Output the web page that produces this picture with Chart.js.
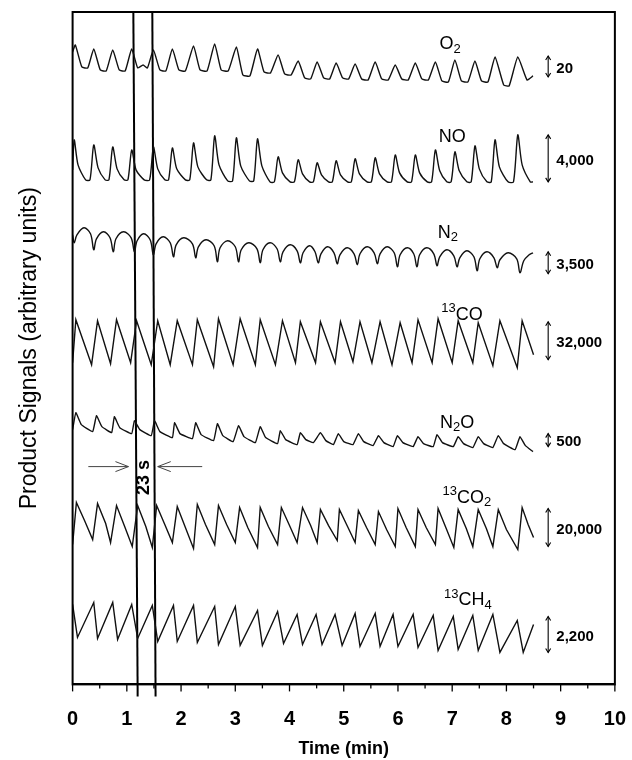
<!DOCTYPE html>
<html>
<head>
<meta charset="utf-8">
<script src="https://cdn.jsdelivr.net/npm/chart.js@4.4.1/dist/chart.umd.min.js"></script>
<style>html,body{margin:0;padding:0;background:#fff}</style>
</head>
<body>
<canvas id="c" width="632" height="760"></canvas>
<script>
// x axis: time in minutes
const timeTicks = [0, 1, 2, 3, 4, 5, 6, 7, 8, 9, 10];

// trace names (_ = subscript, ^ = superscript) and their scale bars
const traceNames = ['O_2', 'NO', 'N_2', '^13CO', 'N_2O', '^13CO_2', '^13CH_4'];
const scaleBarLabels = ['20', '4,000', '3,500', '32,000', '500', '20,000', '2,200'];
const scaleBarLow  = [608, 503, 411, 325, 238, 138, 32];
const scaleBarHigh = [629, 550, 433, 363, 251, 176, 68];

// the two marker lines, 23 s apart [time at top, time at bottom]
const markerLines = [[1.12, 1.2], [1.47, 1.53]];

// signals, stacked, [time (min), signal (arbitrary units)]
const o2Signal = [[0,633],[0.05,640],[0.17,618],[0.28,617],[0.39,636],[0.51,615],[0.62,614],[0.74,635],[0.86,615],[0.97,614],[1.09,636],[1.2,617],[1.3,620],[1.38,617],[1.49,635],[1.61,615],[1.72,614],[1.84,636],[1.96,615],[2.08,614],[2.23,639],[2.35,615],[2.48,614],[2.62,641],[2.74,615],[2.87,614],[3.02,638],[3.14,610],[3.27,609],[3.41,636],[3.53,613],[3.65,612],[3.79,630],[3.91,611],[4.03,610],[4.16,624],[4.28,607],[4.39,606],[4.51,623],[4.63,607],[4.74,606],[4.86,622],[4.98,607],[5.09,606],[5.21,621],[5.33,606],[5.45,605],[5.58,623],[5.7,606],[5.82,605],[5.95,620],[6.07,606],[6.19,605],[6.32,622],[6.44,606],[6.56,605],[6.69,623],[6.81,604],[6.93,603],[7.05,625],[7.17,604],[7.29,603],[7.42,624],[7.54,604],[7.66,603],[7.79,628],[7.95,600],[8.05,599],[8.21,628],[8.38,605],[8.49,609]];

const noSignal = [[0,515],[0.03,545],[0.1,520],[0.24,505],[0.32,505],[0.39,540],[0.47,517],[0.6,505],[0.67,505],[0.74,538],[0.82,516],[0.95,505],[1.02,505],[1.09,535],[1.17,515],[1.32,505],[1.42,505],[1.49,538],[1.57,516],[1.7,505],[1.77,505],[1.84,537],[1.92,516],[2.08,505],[2.16,505],[2.23,542],[2.31,518],[2.47,505],[2.55,505],[2.62,549],[2.7,520],[2.86,504],[2.95,504],[3.02,547],[3.1,519],[3.26,504],[3.34,504],[3.41,546],[3.49,519],[3.64,503],[3.72,503],[3.79,528],[3.87,512],[4.01,503],[4.09,503],[4.16,525],[4.24,511],[4.37,503],[4.44,503],[4.51,522],[4.59,510],[4.72,503],[4.79,503],[4.86,524],[4.94,510],[5.07,503],[5.14,503],[5.21,526],[5.29,511],[5.43,503],[5.51,503],[5.58,527],[5.66,511],[5.8,503],[5.88,503],[5.95,530],[6.03,512],[6.17,503],[6.25,503],[6.32,530],[6.4,512],[6.54,503],[6.62,503],[6.69,535],[6.77,514],[6.9,503],[6.98,503],[7.05,533],[7.13,514],[7.27,503],[7.35,503],[7.42,539],[7.5,516],[7.64,503],[7.72,503],[7.79,545],[7.87,518],[8.03,503],[8.13,503],[8.21,550],[8.29,520],[8.44,503],[8.49,503]];

const n2Signal = [[0,450],[0.03,442],[0.08,450],[0.21,457],[0.33,451],[0.39,435],[0.44,446],[0.57,453],[0.69,447],[0.75,433],[0.8,446],[0.94,453],[1.08,447],[1.14,433],[1.19,444],[1.31,451],[1.43,445],[1.49,430],[1.54,441],[1.67,448],[1.8,442],[1.86,428],[1.91,440],[2.05,447],[2.21,441],[2.27,427],[2.32,438],[2.46,445],[2.61,439],[2.67,423],[2.72,437],[2.86,444],[3.0,438],[3.06,423],[3.11,435],[3.25,442],[3.4,436],[3.46,422],[3.51,435],[3.64,442],[3.77,436],[3.83,423],[3.88,433],[4.01,440],[4.14,434],[4.2,422],[4.25,432],[4.37,439],[4.47,433],[4.53,422],[4.58,431],[4.7,438],[4.82,432],[4.88,421],[4.93,430],[5.06,437],[5.19,431],[5.25,420],[5.3,431],[5.43,438],[5.56,432],[5.62,421],[5.67,431],[5.8,438],[5.93,432],[5.99,418],[6.04,430],[6.17,437],[6.29,431],[6.35,418],[6.4,430],[6.53,437],[6.66,431],[6.72,419],[6.77,428],[6.9,435],[7.03,429],[7.09,418],[7.14,427],[7.27,434],[7.4,428],[7.46,414],[7.51,426],[7.64,433],[7.77,427],[7.83,417],[7.88,425],[8.03,432],[8.19,426],[8.25,412],[8.32,424],[8.42,430],[8.49,432]];

const coSignal = [[0,322],[0.06,365],[0.35,320],[0.46,364],[0.7,321],[0.81,365],[1.07,322],[1.18,364],[1.45,320],[1.57,364],[1.8,320],[1.93,364],[2.21,320],[2.3,365],[2.6,318],[2.69,366],[2.96,320],[3.09,366],[3.37,320],[3.46,365],[3.74,320],[3.87,364],[4.11,322],[4.2,363],[4.48,322],[4.57,363],[4.84,322],[4.94,363],[5.17,323],[5.3,363],[5.52,322],[5.67,363],[5.89,320],[6.04,362],[6.26,322],[6.37,365],[6.63,322],[6.74,366],[7.0,322],[7.11,364],[7.38,322],[7.48,362],[7.75,319],[7.88,364],[8.2,317],[8.29,364],[8.5,330]];

const n2oSignal = [[0,255],[0.06,272],[0.16,260],[0.37,253],[0.44,269],[0.54,258],[0.72,252],[0.77,268],[0.87,257],[1.09,251],[1.14,264],[1.24,255],[1.45,249],[1.51,264],[1.61,253],[1.84,247],[1.88,262],[1.98,251],[2.21,246],[2.27,262],[2.37,250],[2.6,244],[2.67,261],[2.77,249],[2.96,243],[3.06,259],[3.16,248],[3.37,242],[3.46,258],[3.56,247],[3.78,241],[3.83,254],[3.93,245],[4.14,240],[4.2,252],[4.3,245],[4.44,242],[4.57,252],[4.67,244],[4.81,240],[4.9,251],[5.0,243],[5.17,240],[5.27,251],[5.37,243],[5.54,239],[5.64,249],[5.74,242],[5.91,238],[5.99,249],[6.09,242],[6.28,238],[6.37,248],[6.47,241],[6.65,238],[6.72,250],[6.82,242],[7.02,238],[7.11,248],[7.21,241],[7.38,237],[7.48,248],[7.58,241],[7.75,237],[7.85,249],[7.95,241],[8.16,235],[8.25,248],[8.35,239],[8.49,233]];

const co2Signal = [[0,140],[0.07,182],[0.22,164],[0.37,145],[0.46,181],[0.61,161],[0.7,142],[0.81,179],[0.96,158],[1.1,138],[1.2,179],[1.35,158],[1.47,137],[1.55,179],[1.7,160],[1.84,142],[1.93,178],[2.08,157],[2.23,136],[2.3,180],[2.45,160],[2.62,140],[2.69,179],[2.84,160],[3.0,142],[3.08,177],[3.23,157],[3.41,137],[3.46,177],[3.61,158],[3.78,140],[3.85,177],[4.0,159],[4.14,142],[4.24,177],[4.39,159],[4.51,142],[4.57,175],[4.72,159],[4.88,144],[4.92,175],[5.07,158],[5.21,142],[5.27,174],[5.42,157],[5.58,140],[5.64,173],[5.79,155],[5.95,138],[6.0,176],[6.15,157],[6.32,138],[6.37,175],[6.52,157],[6.69,140],[6.74,176],[6.89,156],[7.03,137],[7.11,175],[7.26,156],[7.38,138],[7.48,175],[7.63,156],[7.75,138],[7.85,175],[8.0,155],[8.21,135],[8.29,177],[8.4,160],[8.5,147]];

const ch4Signal = [[0,80],[0.09,47],[0.39,82],[0.46,46],[0.74,82],[0.83,45],[1.09,80],[1.2,46],[1.47,79],[1.57,43],[1.86,79],[1.93,43],[2.23,79],[2.3,42],[2.62,78],[2.69,40],[3.0,78],[3.09,39],[3.41,74],[3.5,39],[3.78,73],[3.89,41],[4.14,70],[4.24,40],[4.49,70],[4.6,40],[4.84,70],[4.97,39],[5.21,71],[5.3,38],[5.58,71],[5.67,38],[5.91,70],[6.0,38],[6.28,70],[6.37,37],[6.65,69],[6.74,34],[7.02,68],[7.11,35],[7.38,69],[7.48,34],[7.75,70],[7.88,32],[8.2,64],[8.31,32],[8.5,60]];

const signals = [o2Signal, noSignal, n2Signal, coSignal, n2oSignal, co2Signal, ch4Signal];
// curve smoothing per trace (rounded humps for N2, NO decays)
const traceTension = [0.15, 0.25, 0.35, 0, 0.1, 0, 0];

const FONT = "'Liberation Sans', Arial, Helvetica, sans-serif";

const datasets = signals.map((s, i) => ({
  label: traceNames[i],
  data: s.map(p => ({x: p[0], y: p[1]})),
  borderColor: '#111',
  borderWidth: 1.4,
  pointRadius: 0,
  tension: traceTension[i],
  fill: false
}));
markerLines.forEach(m => datasets.push({
  label: 'marker',
  data: [{x: m[0], y: 673}, {x: m[1], y: -12}],
  borderColor: '#000',
  borderWidth: 2,
  pointRadius: 0,
  clip: false
}));

function drawChem(ctx, str, cx, cy) {
  // split into plain / _sub / ^sup runs
  const parts = [];
  const re = /(\^\d+|_\d+|[^\^_]+)/g;
  let m;
  while ((m = re.exec(str))) {
    const t = m[0];
    if (t[0] === '^') parts.push({t: t.slice(1), f: '13px ' + FONT, dy: -6});
    else if (t[0] === '_') parts.push({t: t.slice(1), f: '13px ' + FONT, dy: 5});
    else parts.push({t: t, f: '18px ' + FONT, dy: 0});
  }
  let w = 0;
  parts.forEach(p => { ctx.font = p.f; p.w = ctx.measureText(p.t).width; w += p.w; });
  let x = cx - w / 2;
  ctx.textAlign = 'left';
  ctx.textBaseline = 'middle';
  parts.forEach(p => { ctx.font = p.f; ctx.fillText(p.t, x, cy + p.dy); x += p.w; });
}

function arrowHead(ctx, x, y, dx, dy, len, half) {
  // open chevron at (x,y) pointing along (dx,dy)
  const nx = -dy, ny = dx;
  ctx.beginPath();
  ctx.moveTo(x - dx * len + nx * half, y - dy * len + ny * half);
  ctx.lineTo(x, y);
  ctx.lineTo(x - dx * len - nx * half, y - dy * len - ny * half);
  ctx.stroke();
}

const decor = {
  id: 'decor',
  afterDatasetsDraw(chart) {
    const {ctx, chartArea: a, scales: {x, y}} = chart;
    ctx.save();
    ctx.strokeStyle = '#000';
    ctx.fillStyle = '#000';
    ctx.lineWidth = 2;
    ctx.strokeRect(a.left, a.top, a.right - a.left, a.bottom - a.top);

    // major and minor ticks on the time axis
    ctx.lineWidth = 1.3;
    for (let i = 0; i < timeTicks.length; i++) {
      const px = x.getPixelForValue(timeTicks[i]);
      ctx.beginPath(); ctx.moveTo(px, a.bottom); ctx.lineTo(px, a.bottom + 7); ctx.stroke();
      if (i < timeTicks.length - 1) {
        const pm = x.getPixelForValue((timeTicks[i] + timeTicks[i + 1]) / 2);
        ctx.beginPath(); ctx.moveTo(pm, a.bottom); ctx.lineTo(pm, a.bottom + 4); ctx.stroke();
      }
    }

    // trace names
    const namePos = [[6.96, 641], [7.0, 548], [6.92, 452], [7.18, 370], [7.09, 262], [7.27, 187], [7.29, 84]];
    traceNames.forEach((n, i) => drawChem(ctx, n, x.getPixelForValue(namePos[i][0]), y.getPixelForValue(namePos[i][1])));

    // scale bars
    ctx.lineWidth = 1.1;
    const bx = x.getPixelForValue(8.77);
    ctx.font = 'bold 15px ' + FONT;
    ctx.textAlign = 'left';
    ctx.textBaseline = 'middle';
    scaleBarLabels.forEach((lab, i) => {
      const y0 = y.getPixelForValue(scaleBarHigh[i]);
      const y1 = y.getPixelForValue(scaleBarLow[i]);
      ctx.beginPath(); ctx.moveTo(bx, y0); ctx.lineTo(bx, y1); ctx.stroke();
      arrowHead(ctx, bx, y0, 0, -1, 4, 2.5);
      arrowHead(ctx, bx, y1, 0, 1, 4, 2.5);
      ctx.fillText(lab, x.getPixelForValue(8.92), (y0 + y1) / 2 + 2);
    });

    // 23 s arrows
    ctx.strokeStyle = '#444';
    ctx.lineWidth = 1;
    const ay = y.getPixelForValue(218);
    const l0 = x.getPixelForValue(0.29), l1 = x.getPixelForValue(1.03);
    const r0 = x.getPixelForValue(2.39), r1 = x.getPixelForValue(1.57);
    ctx.beginPath(); ctx.moveTo(l0, ay); ctx.lineTo(l1, ay); ctx.stroke();
    arrowHead(ctx, l1, ay, 1, 0, 13, 5);
    ctx.beginPath(); ctx.moveTo(r0, ay); ctx.lineTo(r1, ay); ctx.stroke();
    arrowHead(ctx, r1, ay, -1, 0, 13, 5);

    ctx.save();
    ctx.translate(x.getPixelForValue(1.31), y.getPixelForValue(207));
    ctx.rotate(-Math.PI / 2);
    ctx.font = 'bold 18px ' + FONT;
    ctx.textAlign = 'center';
    ctx.textBaseline = 'middle';
    ctx.fillStyle = '#000';
    ctx.fillText('23 s', 0, 0);
    ctx.restore();

    ctx.restore();
  }
};

new Chart(document.getElementById('c'), {
  type: 'line',
  data: {datasets},
  options: {
    responsive: false,
    animation: false,
    events: [],
    layout: {padding: {left: 0, right: 9, top: 12, bottom: 0}},
    plugins: {legend: {display: false}, tooltip: {enabled: false}},
    scales: {
      x: {
        type: 'linear',
        min: 0, max: 10,
        afterBuildTicks: s => { s.ticks = timeTicks.map(v => ({value: v})); },
        ticks: {
          autoSkip: false, maxRotation: 0, padding: 6, color: '#000',
          font: {family: FONT, size: 20, weight: 'bold'}
        },
        // tick marks are drawn by the decor plugin; the grid only reserves the room
        grid: {display: true, drawOnChartArea: false, drawTicks: true, tickLength: 17, color: 'rgba(0,0,0,0)'},
        border: {display: true, color: '#000', width: 2},
        title: {
          display: true, text: 'Time (min)', color: '#000',
          font: {family: FONT, size: 18, weight: 'bold'},
          padding: {top: 1, bottom: 0}
        }
      },
      y: {
        type: 'linear',
        min: 0, max: 673,
        ticks: {display: false},
        grid: {display: false, drawTicks: false},
        border: {display: false},
        title: {
          display: true, text: 'Product Signals (arbitrary units)', color: '#000',
          font: {family: FONT, size: 23},
          padding: {top: 16, bottom: 29}
        }
      }
    }
  },
  plugins: [decor]
});
</script>
</body>
</html>
